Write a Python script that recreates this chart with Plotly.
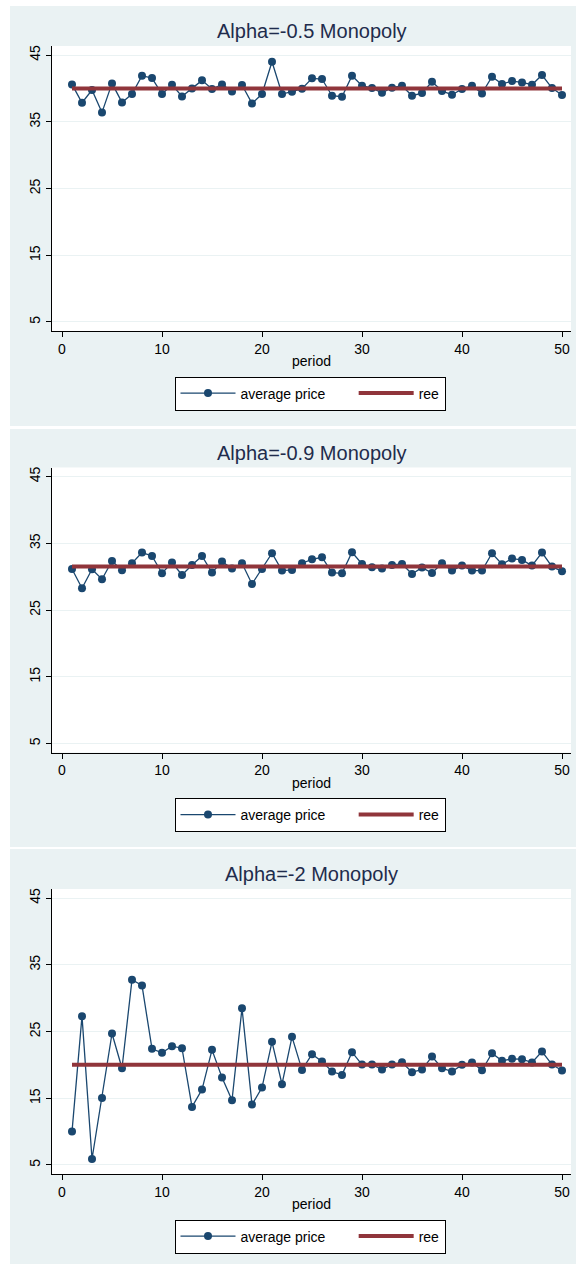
import plotly.graph_objects as go

periods = list(range(1, 51))

price_a05 = [40.6, 37.85, 39.75, 36.4, 40.75, 37.9, 39.15, 41.9, 41.55, 39.15,
             40.55, 38.8, 40.0, 41.2, 39.9, 40.6, 39.55, 40.5, 37.75, 39.15,
             44.0, 39.15, 39.5, 39.95, 41.5, 41.4, 38.9, 38.75, 41.9, 40.4,
             40.05, 39.35, 40.1, 40.4, 38.9, 39.3, 41.0, 39.6, 39.05, 39.9,
             40.4, 39.25, 41.75, 40.65, 41.1, 40.9, 40.55, 42.0, 40.05, 39.0]

price_a09 = [31.15, 28.25, 31.1, 29.6, 32.35, 30.95, 32.0, 33.6, 33.1, 30.5,
             32.1, 30.25, 31.75, 33.1, 30.6, 32.25, 31.2, 32.0, 28.9, 31.15,
             33.5, 30.9, 31.0, 32.0, 32.6, 32.9, 30.6, 30.5, 33.65, 31.9,
             31.4, 31.2, 31.75, 31.9, 30.4, 31.35, 30.55, 32.0, 30.9, 31.65,
             30.9, 30.9, 33.5, 31.85, 32.7, 32.5, 31.65, 33.6, 31.5, 30.8]

price_a2 = [10.0, 27.3, 5.9, 15.05, 24.7, 19.5, 32.75, 31.9, 22.4, 21.8,
            22.8, 22.5, 13.7, 16.3, 22.25, 18.1, 14.7, 28.5, 14.05, 16.6,
            23.45, 17.1, 24.2, 19.25, 21.6, 20.5, 19.0, 18.5, 21.9, 20.05,
            20.05, 19.3, 20.05, 20.4, 18.9, 19.3, 21.25, 19.5, 19.0, 20.0,
            20.35, 19.2, 21.75, 20.6, 20.9, 20.85, 20.35, 22.0, 20.05, 19.15]

ree_levels = [40.0, 31.5, 20.0]
titles = ["Alpha=-0.5 Monopoly", "Alpha=-0.9 Monopoly", "Alpha=-2 Monopoly"]
series = [price_a05, price_a09, price_a2]
series_names = ["average price", "ree"]

x_ticks = [0, 10, 20, 30, 40, 50]
y_ticks = [5, 15, 25, 35, 45]

W, H = 576, 1264
FONT = "Liberation Sans, Arial, sans-serif"
NAVY = "#1a476f"
MAROON = "#90353b"
PANEL_BG = "#eaf2f3"
PAD = "\u00a0" * 6

panel_off = [0, 421.5, 843]
panel_rects = [(10, 6, 576, 426), (10, 429, 576, 847), (10, 849, 576, 1270)]
plot_left, plot_right = 52, 571
plot_top0, plot_bot0 = 46, 331


def py(v):
    return 1 - v / H


fig = go.Figure()
shapes = []
annotations = []

for i in range(3):
    x0, y0, x1, y1 = panel_rects[i]
    shapes.append(dict(type="rect", xref="paper", yref="paper", x0=x0 / W, x1=x1 / W,
                       y0=py(y1), y1=py(y0), fillcolor=PANEL_BG, line_width=0, layer="below"))

for i in range(3):
    off = panel_off[i]
    top, bot = plot_top0 + off, plot_bot0 + off
    shapes.append(dict(type="rect", xref="paper", yref="paper", x0=plot_left / W, x1=plot_right / W,
                       y0=py(bot), y1=py(top), fillcolor="white", line_width=0, layer="below"))

for i in range(3):
    off = panel_off[i]
    top, bot = plot_top0 + off, plot_bot0 + off
    sfx = "" if i == 0 else str(i + 1)
    leg = "legend" if i == 0 else "legend" + str(i + 1)
    fig.add_trace(go.Scatter(
        x=periods, y=series[i], mode="lines+markers", name=series_names[0] + PAD,
        line=dict(color=NAVY, width=1.3), marker=dict(color=NAVY, size=8),
        xaxis="x" + sfx, yaxis="y" + sfx, legend=leg))
    fig.add_trace(go.Scatter(
        x=periods, y=[ree_levels[i]] * len(periods), mode="lines", name=series_names[1],
        line=dict(color=MAROON, width=4),
        xaxis="x" + sfx, yaxis="y" + sfx, legend=leg))

    xa = dict(domain=[plot_left / W, plot_right / W], range=[-1, 50.9],
              tickvals=x_ticks, ticks="outside", ticklen=5, tickwidth=1, tickcolor="black",
              showline=True, linecolor="black", linewidth=1, showgrid=False, zeroline=False,
              tickfont=dict(family=FONT, size=14, color="black"),
              title=dict(text="period", font=dict(family=FONT, size=14, color="black"), standoff=0),
              anchor="y" + sfx, fixedrange=True, automargin=False)
    ya = dict(domain=[py(bot), py(top)], range=[3.65, 46.35],
              tickvals=y_ticks, ticks="outside", ticklen=5, tickwidth=1, tickcolor="black",
              tickangle=-90,
              showline=True, linecolor="black", linewidth=1, showgrid=True,
              gridcolor=PANEL_BG, gridwidth=1, zeroline=False,
              tickfont=dict(family=FONT, size=14, color="black"),
              anchor="x" + sfx, fixedrange=True, automargin=False)
    fig.update_layout(**{"xaxis" + sfx: xa, "yaxis" + sfx: ya})

    annotations.append(dict(text=titles[i], xref="paper", yref="paper",
                            x=(plot_left + plot_right) / 2 / W, y=py(31 + off),
                            xanchor="center", yanchor="middle", showarrow=False,
                            font=dict(family=FONT, size=20, color="#1f2c4c")))

    legcfg = dict(orientation="h", x=174.5 / W, y=py(376.5 + off), xanchor="left", yanchor="top",
                  bgcolor="white", bordercolor="black", borderwidth=1,
                  font=dict(family=FONT, size=14, color="black"),
                  itemwidth=55)
    fig.update_layout(**{leg: legcfg})

fig.update_layout(width=W, height=H, margin=dict(l=0, r=0, t=0, b=0, autoexpand=False),
                  paper_bgcolor="white", plot_bgcolor="white",
                  shapes=shapes, annotations=annotations, showlegend=True)

fig.write_html("out.html", config={"displayModeBar": False},
               post_script="document.body.style.margin='0';document.body.style.overflow='hidden';")
